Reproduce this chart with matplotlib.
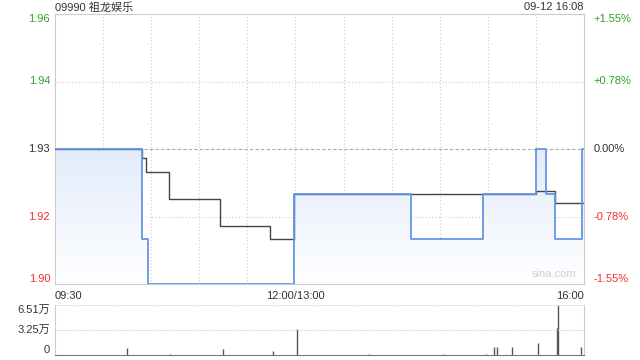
import numpy as np
import matplotlib
matplotlib.use("Agg")
import matplotlib.pyplot as plt
from matplotlib.colors import LinearSegmentedColormap

plt.rcParams['font.family'] = ['Liberation Sans', 'Noto Sans CJK SC', 'DejaVu Sans']

# minutes from 09:30 (lunch break removed), 330 = 16:00
price_t = [0, 54, 58, 149, 222, 267, 300, 306, 312, 329, 330]
price_v = [1.93, 1.91, 1.90, 1.92, 1.91, 1.92, 1.93, 1.92, 1.91, 1.93, 1.93]

avg_t = [0, 54, 57, 71, 103, 134, 149, 300, 312, 330]
avg_v = [1.93, 1.928, 1.925, 1.919, 1.913, 1.910, 1.920, 1.9207, 1.918, 1.918]

vol_t = [45, 72, 105, 136, 151, 196, 242, 269, 274, 276, 285, 301, 313, 314, 328]
vol_v = [8700, 1200, 7400, 5600, 33400, 1200, 1200, 1500, 10800, 10800, 10800, 16000, 35500, 65100, 10800]

left_ticks = [1.90, 1.915, 1.93, 1.945, 1.96]
left_labels = ["1.90", "1.92", "1.93", "1.94", "1.96"]
right_labels = ["-1.55%", "-0.78%", "0.00%", "+0.78%", "+1.55%"]
tick_colors = ["#f23030", "#f23030", "#333333", "#2aa52a", "#2aa52a"]

x_ticks = [0, 150, 330]
x_labels = ["09:30", "12:00/13:00", "16:00"]

vol_ticks = [0, 32550, 65100]
vol_labels = ["0", "3.25万", "6.51万"]

fig = plt.figure(figsize=(6.4, 3.6), dpi=100)
ax = fig.add_axes([55 / 640, 1 - 284 / 360, 529 / 640, 270 / 360])
axv = fig.add_axes([55 / 640, 1 - 355 / 360, 529 / 640, 50 / 360])

ax.set_xlim(0, 330)
ax.set_ylim(1.90, 1.96)

# gridlines
for x in range(30, 330, 30):
    ax.axvline(x, color="#cccccc", lw=0.8, ls=(0, (1, 2)), zorder=1)
for y in [1.915, 1.945]:
    ax.axhline(y, color="#cccccc", lw=0.8, ls=(0, (1, 2)), zorder=1)
ax.axhline(1.93, color="#aaaaaa", lw=0.8, ls=(0, (3, 2)), zorder=1)

# gradient fill under the price line
st = np.repeat(price_t, 2)[1:]
sv = np.repeat(price_v, 2)[:-1]
poly_x = np.concatenate([[0], st, [330]])
poly_y = np.concatenate([[1.90], sv, [1.90]])
patch = ax.fill(poly_x, poly_y, facecolor="none", edgecolor="none")[0]
grad = np.linspace(0, 1, 256).reshape(-1, 1)
cmap = LinearSegmentedColormap.from_list("g", ["#ffffff", "#e3ecfb"])
im = ax.imshow(grad, extent=[0, 330, 1.90, 1.93], origin="lower", aspect="auto",
               cmap=cmap, zorder=2)
im.set_clip_path(patch)

ax.plot(avg_t, avg_v, drawstyle="steps-post", color="#444444", lw=1, zorder=3)
ax.plot(price_t, price_v, drawstyle="steps-post", color="#6495e8", lw=1.3, zorder=4)

for s in ax.spines.values():
    s.set_color("#cccccc")
    s.set_linewidth(0.8)

ax.set_yticks([])
ax.set_xticks([])
for y, lab, rlab, c in zip(left_ticks, left_labels, right_labels, tick_colors):
    va = "center"
    if y == 1.96:
        va = "top"
    elif y == 1.90:
        va = "bottom"
    ax.text(-3, y, lab, color=c, fontsize=8, ha="right", va=va)
    ax.text(336, y, rlab, color=c, fontsize=8, ha="left", va=va)

for x, lab, ha in zip(x_ticks, x_labels, ["left", "center", "right"]):
    ax.text(x, 1.8985, lab, fontsize=8, color="#333333", ha=ha, va="top")

fig.text(55 / 640, 1 - 7 / 360, "09990 祖龙娱乐", fontsize=8, color="#333333", ha="left", va="center")
fig.text(584 / 640, 1 - 7 / 360, "09-12 16:08", fontsize=8, color="#333333", ha="right", va="center")
ax.text(325, 1.9012, "sina.com", fontsize=8, color="#d0d0d0", ha="right", va="bottom")

# volume
axv.set_xlim(0, 330)
axv.set_ylim(0, 65100)
axv.vlines(vol_t, 0, vol_v, color="#555555", lw=1)
axv.axhline(32550, color="#cccccc", lw=0.8, ls=(0, (1, 1)))
axv.axhline(65100, color="#cccccc", lw=0.8, ls=(0, (1, 1)))
axv.set_xticks([])
axv.set_yticks([])
for k in ["left", "right"]:
    axv.spines[k].set_color("#cccccc")
    axv.spines[k].set_linewidth(0.8)
axv.spines["top"].set_visible(False)
axv.spines["bottom"].set_color("#777777")
axv.spines["bottom"].set_linestyle((0, (1, 1)))
axv.spines["bottom"].set_linewidth(0.8)
for v, lab, va in zip(vol_ticks, vol_labels, ["bottom", "center", "top"]):
    axv.text(-3, v, lab, fontsize=8, color="#333333", ha="right", va=va)

fig.savefig("out.png", dpi=100)
